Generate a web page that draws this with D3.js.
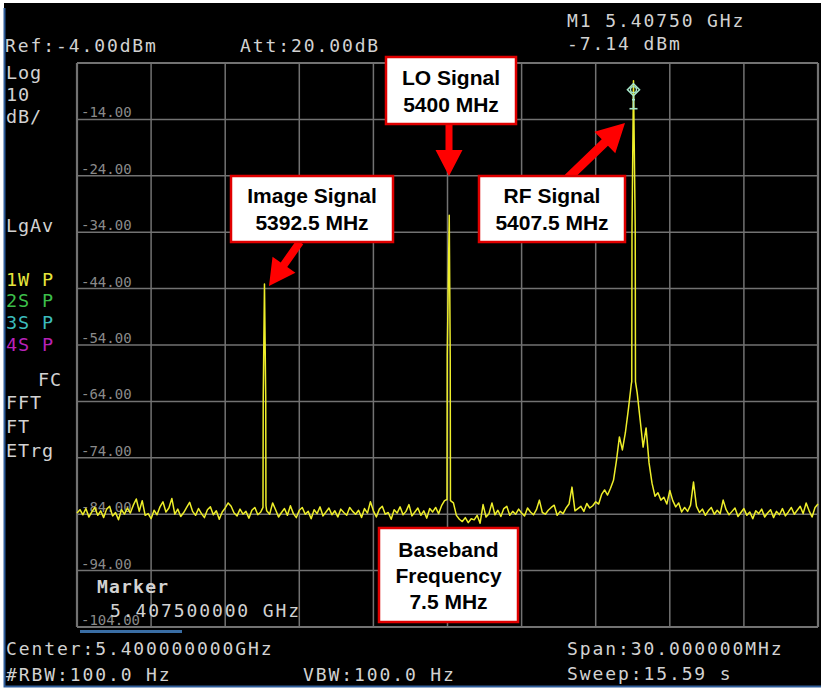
<!DOCTYPE html>
<html>
<head>
<meta charset="utf-8">
<script src="https://cdn.jsdelivr.net/npm/d3@7"></script>
<style>
body { margin: 0; background: #fff; }
svg { display: block; }
.inst { font-family: "DejaVu Sans Mono", monospace; font-size: 18px; letter-spacing: 1.9px; fill: #d2d2d2; }
.side { font-family: "DejaVu Sans Mono", monospace; font-size: 18.5px; letter-spacing: 0.9px; fill: #d2d2d2; }
.tick { font-family: "DejaVu Sans Mono", monospace; font-size: 14px; fill: #8a8a8a; }
.call { font-family: "Liberation Sans", Arial, sans-serif; font-size: 21px; font-weight: bold; fill: #000; }
</style>
</head>
<body>
<div id="chart"></div>
<script>
var width = 821,
    height = 689;

// sweep: 5385 .. 5415 MHz, one reading every 0.12 MHz
var startMHz = 5385,
    stepMHz = 0.12;

var traceDbm = [
  -83.8, -83.2, -84.1, -83.0, -84.5, -83.6, -82.8, -84.2, -83.4, -84.6,
  -83.1, -82.6, -84.3, -83.7, -85.0, -83.2, -84.0, -82.9, -83.8, -82.4,
  -81.3, -83.5, -81.6, -84.2, -83.9, -84.8, -83.3, -84.1, -82.7, -81.8,
  -83.6, -82.9, -81.2, -84.0, -83.1, -84.4, -83.7, -82.8, -81.9, -83.5,
  -84.2, -83.0, -83.9, -84.6, -83.2, -82.7, -84.1, -83.4, -84.9, -83.6,
  -82.9, -82.0, -82.6, -83.8, -84.3, -83.1, -84.0, -83.5, -84.7, -83.3,
  -82.8, -84.1, -83.6, -83.0, -83.4, -84.0, -82.0, -83.2, -84.5, -83.7,
  -83.0, -84.2, -82.5, -83.9, -84.6, -83.3, -82.8, -84.0, -83.5, -84.8,
  -83.2, -83.9, -82.7, -84.3, -83.6, -82.9, -84.1, -83.4, -84.5, -83.1,
  -83.7, -84.2, -82.8, -83.5, -84.0, -83.3, -84.6, -83.0, -83.8, -81.8,
  -83.4, -84.5, -83.1, -82.6, -84.0, -83.7, -84.9, -83.2, -83.8, -82.7,
  -84.1, -83.5, -82.3, -84.3, -83.6, -82.9, -84.2, -83.4, -84.7, -83.0,
  -83.6, -82.8, -83.9, -82.5, -81.6, -81.2, -81.0, -82.0, -84.2, -84.9,
  -85.3, -84.6, -85.5, -84.8, -85.0, -84.2, -85.6, -82.3, -84.5, -83.9,
  -82.0, -84.1, -83.3, -84.4, -83.0, -82.6, -84.2, -83.5, -84.0, -83.1,
  -83.8, -84.3, -82.9, -83.6, -84.1, -83.2, -81.5, -83.7, -84.0, -83.3,
  -82.8, -82.4, -84.2, -83.5, -83.9, -82.9, -82.2, -79.2, -83.4, -83.0,
  -82.6, -83.5, -82.1, -82.9, -82.5, -81.8, -82.2, -80.5, -79.7, -80.6,
  -79.4, -78.0, -74.5, -70.3, -72.6, -69.6, -65.5, -61.0, -60.0, -62.5,
  -67.3, -72.1, -68.7, -74.9, -78.5, -80.8, -80.2, -81.5, -81.0, -82.2,
  -79.8, -81.6, -82.7, -82.0, -83.6, -82.8, -83.5, -82.4, -78.3, -82.6,
  -83.7, -83.1, -84.2, -83.4, -82.8, -84.0, -83.3, -83.9, -81.5, -83.2,
  -84.1, -83.5, -82.9, -84.4, -83.7, -83.0, -84.2, -83.6, -84.8, -83.4,
  -83.9, -83.1, -84.5, -83.8, -83.2, -84.6, -83.5, -84.1, -83.0, -84.3,
  -83.6, -82.8, -84.0, -83.3, -82.6, -83.9, -82.0, -83.4, -84.5, -82.8,
  -82.2
];

// narrow carrier peaks, [MHz, dBm]
var imagePeak = [[5392.53, -82.8], [5392.54, -63.2], [5392.59, -43.2], [5392.64, -63.2], [5392.65, -82.5]];
var loPeak = [[5399.98, -81.4], [5399.99, -55.8], [5400.07, -31.0], [5400.11, -55.8], [5400.12, -81.6]];
var rfPeak = [[5407.46, -60.5], [5407.47, -33.2], [5407.53, -7.14], [5407.60, -33.2], [5407.61, -60.5]];

var markerMHz = 5407.53,
    markerDbm = -7.14;

var freqGrid = [5385, 5388, 5391, 5394, 5397, 5400, 5403, 5406, 5409, 5412, 5415];
var levelGrid = [-4, -14, -24, -34, -44, -54, -64, -74, -84, -94, -104];

var headerTexts = ["Ref:-4.00dBm", "Att:20.00dB", "M1 5.40750 GHz", "-7.14 dBm"];
var footerTexts = ["Center:5.400000000GHz", "#RBW:100.0 Hz", "VBW:100.0 Hz", "Span:30.000000MHz", "Sweep:15.59 s"];
var sideLabels = ["Log", "10", "dB/", "LgAv", "1W P", "2S P", "3S P", "4S P", "FC", "FFT", "FT", "ETrg"];
var sideColors = ["#d2d2d2", "#d2d2d2", "#d2d2d2", "#d2d2d2", "#e6e63c", "#3cbf4a", "#3cbcbc", "#b822b8", "#d2d2d2", "#d2d2d2", "#d2d2d2", "#d2d2d2"];

var calloutLo = ["LO Signal", "5400 MHz"];
var calloutImage = ["Image Signal", "5392.5 MHz"];
var calloutRf = ["RF Signal", "5407.5 MHz"];
var calloutBase = ["Baseband", "Frequency", "7.5 MHz"];

var svg = d3.select("#chart").append("svg")
    .attr("width", width)
    .attr("height", height);

// screen
svg.append("rect")
    .attr("x", 4).attr("y", 3)
    .attr("width", width - 4).attr("height", height - 5)
    .attr("fill", "#000");

svg.append("path")
    .attr("d", "M4.5,8 V686.5 H821")
    .attr("fill", "none")
    .attr("stroke", "#2f5d99")
    .attr("stroke-width", 2);

var x = d3.scaleLinear().domain([5385, 5415]).range([77, 818]);
var y = d3.scaleLinear().domain([-4, -104]).range([63, 627]);

// graticule
svg.append("g").selectAll("line")
    .data(freqGrid)
  .enter().append("line")
    .attr("x1", function(d) { return x(d); })
    .attr("x2", function(d) { return x(d); })
    .attr("y1", y(-4)).attr("y2", y(-104))
    .attr("stroke", "#727272")
    .attr("stroke-width", function(d, i) { return (i == 0 || i == freqGrid.length - 1) ? 2.2 : 1.5; });

svg.append("g").selectAll("line")
    .data(levelGrid)
  .enter().append("line")
    .attr("x1", x(5385)).attr("x2", x(5415))
    .attr("y1", function(d) { return y(d); })
    .attr("y2", function(d) { return y(d); })
    .attr("stroke", "#727272")
    .attr("stroke-width", function(d, i) { return (i == 0 || i == levelGrid.length - 1) ? 2.2 : 1.5; });

svg.append("g").selectAll("text")
    .data(levelGrid.slice(1))
  .enter().append("text")
    .attr("class", "tick")
    .attr("x", 81)
    .attr("y", function(d) { return y(d) - 2; })
    .text(function(d) { return d.toFixed(2); });

// blue bar under the graticule
svg.append("rect")
    .attr("x", 80).attr("y", 630)
    .attr("width", 102).attr("height", 3)
    .attr("fill", "#3a6ea5");

// header
var inst = svg.append("g");
inst.append("text").attr("class", "inst").attr("x", 5).attr("y", 52).text(headerTexts[0]);
inst.append("text").attr("class", "inst").attr("x", 240).attr("y", 52).text(headerTexts[1]);
inst.append("text").attr("class", "inst").attr("x", 567).attr("y", 27).text(headerTexts[2]);
inst.append("text").attr("class", "inst").attr("x", 567).attr("y", 50).text(headerTexts[3]);

// footer
inst.append("text").attr("class", "inst").attr("x", 6).attr("y", 655).text(footerTexts[0]);
inst.append("text").attr("class", "inst").attr("x", 6).attr("y", 681).text(footerTexts[1]);
inst.append("text").attr("class", "inst").attr("x", 303).attr("y", 681).text(footerTexts[2]);
inst.append("text").attr("class", "inst").attr("x", 567).attr("y", 655).text(footerTexts[3]);
inst.append("text").attr("class", "inst").attr("x", 567).attr("y", 680).text(footerTexts[4]);

// left status column
var sideY = [79, 101, 123, 232, 286, 307, 329, 351, 386, 409, 433, 457];
svg.append("g").selectAll("text")
    .data(sideLabels)
  .enter().append("text")
    .attr("class", "side")
    .attr("x", function(d) { return d == "FC" ? 38 : 6; })
    .attr("y", function(d, i) { return sideY[i]; })
    .style("fill", function(d, i) { return sideColors[i]; })
    .text(function(d) { return d; });

// marker readout
svg.append("text").attr("class", "inst")
    .attr("x", 97).attr("y", 593)
    .style("font-weight", "bold").style("letter-spacing", "1.2px")
    .text("Marker");
svg.append("text").attr("class", "inst")
    .attr("x", 110).attr("y", 617)
    .text("5.407500000 GHz");

// trace
var trace = traceDbm.map(function(v, i) { return [startMHz + i * stepMHz, v]; });
[imagePeak, loPeak, rfPeak].forEach(function(pk) {
    var lo = pk[0][0] - 0.01, hi = pk[pk.length - 1][0] + 0.01;
    trace = trace.filter(function(d) { return d[0] < lo || d[0] > hi; }).concat(pk);
});
trace.sort(function(a, b) { return a[0] - b[0]; });

var line = d3.line()
    .x(function(d) { return x(d[0]); })
    .y(function(d) { return y(d[1]); });

svg.append("path")
    .datum(trace)
    .attr("d", line)
    .attr("fill", "none")
    .attr("stroke", "#eeee2a")
    .attr("stroke-width", 1.5)
    .attr("stroke-linejoin", "round");

// M1 marker
var mx = x(markerMHz), my = y(markerDbm);
var mk = svg.append("g").attr("stroke", "#a6e6c8").attr("fill", "none").attr("stroke-width", 1.6);
mk.append("path").attr("d", "M" + mx + "," + (my + 3) + " l6,6 l-6,6 l-6,-6 z");
mk.append("circle").attr("cx", mx).attr("cy", my + 9).attr("r", 3).attr("stroke-width", 1.3);
mk.append("line").attr("x1", mx).attr("x2", mx).attr("y1", my + 15).attr("y2", my + 28);
mk.append("line").attr("x1", mx - 1.5).attr("x2", mx + 1.5).attr("y1", my + 19).attr("y2", my + 19);
mk.append("line").attr("x1", mx - 4).attr("x2", mx + 4).attr("y1", my + 28).attr("y2", my + 28);

// red arrows
function arrow(x1, y1, x2, y2, shaftW, headW, headL) {
    var a = Math.atan2(y2 - y1, x2 - x1),
        len = Math.sqrt((x2 - x1) * (x2 - x1) + (y2 - y1) * (y2 - y1)),
        pts = [[0, -shaftW / 2], [len - headL, -shaftW / 2], [len - headL, -headW / 2], [len, 0],
               [len - headL, headW / 2], [len - headL, shaftW / 2], [0, shaftW / 2]];
    var c = Math.cos(a), s = Math.sin(a);
    svg.append("polygon")
        .attr("points", pts.map(function(p) {
            return (x1 + p[0] * c - p[1] * s) + "," + (y1 + p[0] * s + p[1] * c);
        }).join(" "))
        .attr("fill", "#ff0000");
}

arrow(449, 124, 449, 176, 7, 27, 26);
arrow(300, 242, 269, 286, 8, 28, 26);
arrow(568, 178, 625, 123, 9, 30, 28);

// callout boxes
function callout(x0, y0, w, h, lines, baseY, gap) {
    svg.append("rect")
        .attr("x", x0).attr("y", y0)
        .attr("width", w).attr("height", h)
        .attr("fill", "#fff")
        .attr("stroke", "#e00000")
        .attr("stroke-width", 2.5);
    lines.forEach(function(t, i) {
        svg.append("text")
            .attr("class", "call")
            .attr("x", x0 + w / 2)
            .attr("y", baseY + i * gap)
            .attr("text-anchor", "middle")
            .text(t);
    });
}

callout(386, 57, 130, 67, calloutLo, 85, 27);
callout(231, 176, 162, 66, calloutImage, 203, 27);
callout(479, 176, 146, 66, calloutRf, 203, 27);
callout(379, 528, 139, 94, calloutBase, 557, 26);
</script>
</body>
</html>
